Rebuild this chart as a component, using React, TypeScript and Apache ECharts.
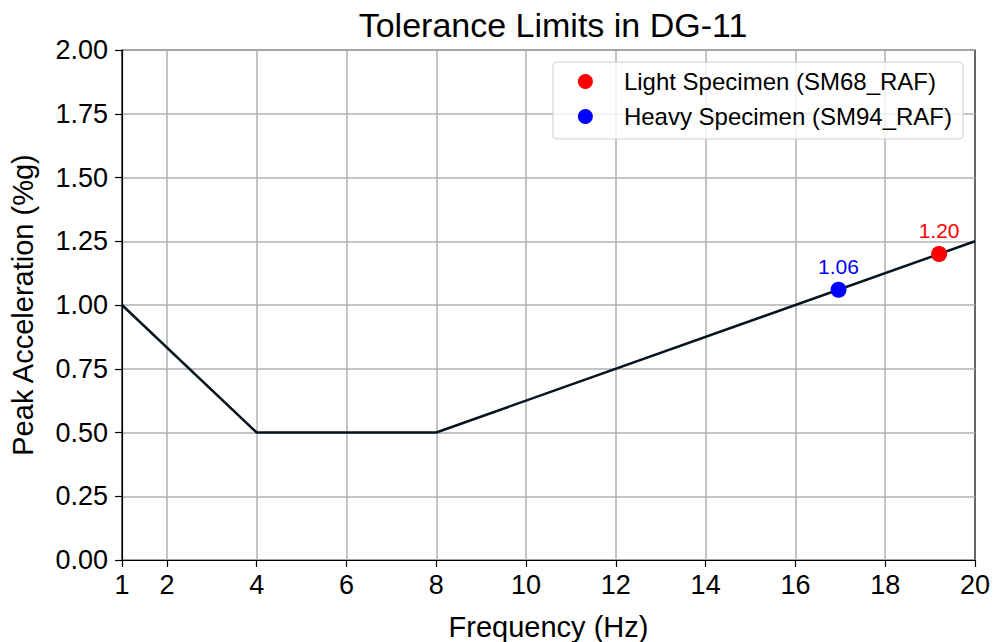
import React, { useEffect, useRef } from "react";
import * as echarts from "echarts";

const limitX = [1, 4, 8, 20];
const limitY = [1.0, 0.5, 0.5, 1.25];
const lightPoint = [19.2, 1.2];
const heavyPoint = [16.96, 1.06];
const xTicks = [1, 2, 4, 6, 8, 10, 12, 14, 16, 18, 20];
const legendNames = ["Light Specimen (SM68_RAF)", "Heavy Specimen (SM94_RAF)"];

export default function App() {
  const ref = useRef<HTMLDivElement>(null);
  useEffect(() => {
    const chart = echarts.init(ref.current!, null, { renderer: "svg" });
    const font = "Arial, 'Liberation Sans', sans-serif";
    chart.setOption({
      animation: false,
      backgroundColor: "#ffffff",
      textStyle: { fontFamily: font },
      title: {
        text: "Tolerance Limits in DG-11",
        left: 548,
        textAlign: "center",
        top: 3,
        textStyle: { fontSize: 34, fontWeight: "normal", color: "#000", fontFamily: font },
      },
      grid: {
        left: 122,
        right: 20,
        top: 50,
        bottom: 82,
        outerBoundsMode: "none",
        containLabel: false,
        show: true,
        borderColor: "#000",
        borderWidth: 1.2,
      },
      legend: {
        right: 32,
        top: 62,
        orient: "vertical",
        data: legendNames,
        icon: "circle",
        itemWidth: 15,
        itemHeight: 15,
        itemGap: 10,
        padding: [7, 11, 10, 25],
        backgroundColor: "rgba(255,255,255,0.8)",
        borderColor: "#d0d0d0",
        borderWidth: 1,
        borderRadius: 4,
        textStyle: { fontSize: 24, lineHeight: 25, color: "#000", fontFamily: font, padding: [0, 0, 0, 26] },
      },
      xAxis: {
        type: "value",
        min: 1,
        max: 20,
        interval: 1,
        name: "Frequency (Hz)",
        nameLocation: "middle",
        nameGap: 52,
        nameTextStyle: { fontSize: 29, color: "#000", fontFamily: font },
        axisLine: { show: true, lineStyle: { color: "#000", width: 1.2 } },
        axisTick: { show: true, customValues: xTicks, length: 7, lineStyle: { color: "#000", width: 1.2 } },
        axisLabel: { customValues: xTicks, fontSize: 27, color: "#000", margin: 11, fontFamily: font },
        splitLine: { show: false },
      },
      yAxis: {
        type: "value",
        min: 0,
        max: 2,
        interval: 0.25,
        name: "Peak Acceleration (%g)",
        nameLocation: "middle",
        nameGap: 85,
        nameTextStyle: { fontSize: 29, color: "#000", fontFamily: font },
        axisLine: { show: true, lineStyle: { color: "#000", width: 1.2 } },
        axisTick: { show: true, length: 7, lineStyle: { color: "#000", width: 1.2 } },
        axisLabel: { fontSize: 27, color: "#000", margin: 14, formatter: (v: number) => v.toFixed(2), fontFamily: font },
        splitLine: { show: true, lineStyle: { color: "#b0b0b0", width: 1.5 } },
      },
      series: [
        {
          type: "line",
          name: "limit",
          data: limitX.map((x, i) => [x, limitY[i]]),
          showSymbol: false,
          lineStyle: { color: "#06141e", width: 2.5 },
          z: 3,
          markLine: {
            silent: true,
            symbol: "none",
            label: { show: false },
            lineStyle: { color: "#b0b0b0", width: 1.5, type: "solid" },
            data: xTicks.filter((v) => v !== 1 && v !== 20).map((v) => ({ xAxis: v })),
            z: 1,
          },
        },
        {
          type: "scatter",
          name: legendNames[0],
          data: [lightPoint],
          symbolSize: 16,
          itemStyle: { color: "#ff0000", opacity: 1 },
          z: 5,
          label: {
            show: true,
            position: "top",
            distance: 5,
            formatter: (p: any) => p.value[1].toFixed(2),
            color: "#ff0000",
            fontSize: 21,
            fontFamily: font,
          },
        },
        {
          type: "scatter",
          name: legendNames[1],
          data: [heavyPoint],
          symbolSize: 16,
          itemStyle: { color: "#0000ff", opacity: 1 },
          z: 5,
          label: {
            show: true,
            position: "top",
            distance: 5,
            formatter: (p: any) => p.value[1].toFixed(2),
            color: "#0000ff",
            fontSize: 21,
            fontFamily: font,
          },
        },
      ],
    });
    return () => chart.dispose();
  }, []);
  return <div ref={ref} style={{ width: 995, height: 642, position: "fixed", left: 0, top: 0 }} />;
}
